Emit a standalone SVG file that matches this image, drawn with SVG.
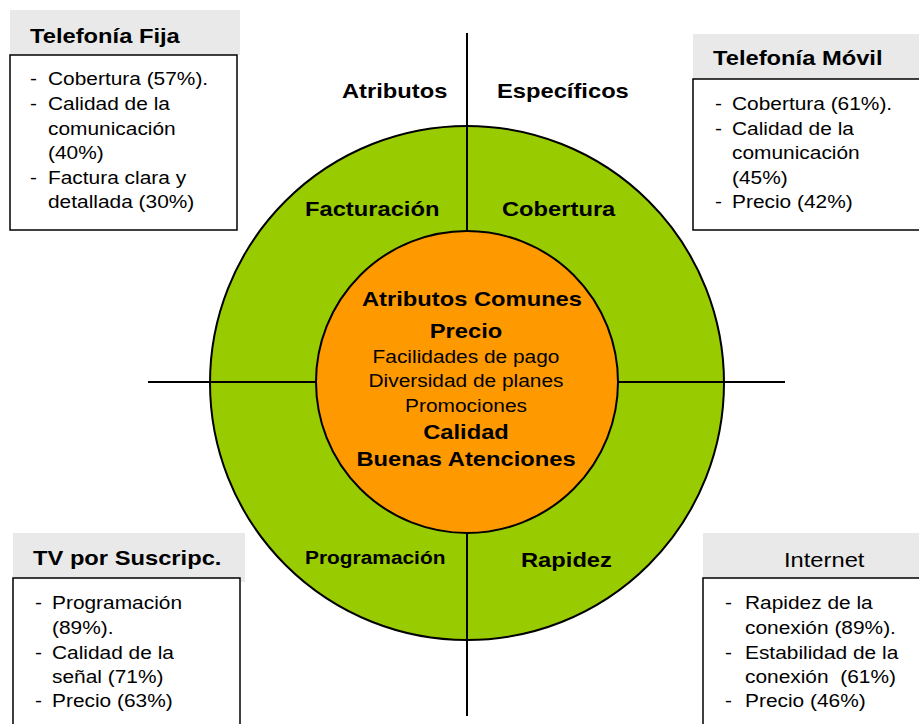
<svg xmlns="http://www.w3.org/2000/svg" width="919" height="724" viewBox="0 0 919 724">
<style>
text{font-family:"Liberation Sans",Arial,sans-serif;fill:#000;white-space:pre}
.b{font-weight:bold;font-size:21px}
.bs{font-weight:bold;font-size:18.5px}
.r{font-size:18.5px}
.rl{font-size:21px}
.m{text-anchor:middle}
.hdr{fill:#e9e9e9;stroke:none}
.box{fill:#fff;stroke:#000;stroke-width:1.5}
.ln{stroke:#000;stroke-width:2;fill:none}
</style>
<rect width="919" height="724" fill="#fff"/>
<g id="outer-ring">
<circle cx="467" cy="383" r="257" fill="#99cc00" stroke="#000" stroke-width="2"/>
</g>
<g id="connectors">
<line class="ln" x1="467" y1="33" x2="467" y2="716"/>
<line class="ln" x1="148" y1="382" x2="785" y2="382"/>
</g>
<g id="inner-circle">
<circle cx="467" cy="382" r="151" fill="#ff9900" stroke="#000" stroke-width="2"/>
<text class="b m" transform="translate(472,306) scale(1.13,1)">Atributos Comunes</text>
<text class="b m" transform="translate(466,338) scale(1.13,1)">Precio</text>
<text class="r m" transform="translate(466,363) scale(1.13,1)">Facilidades de pago</text>
<text class="r m" transform="translate(466,387) scale(1.13,1)">Diversidad de planes</text>
<text class="r m" transform="translate(466,412) scale(1.13,1)">Promociones</text>
<text class="b m" transform="translate(466,439) scale(1.13,1)">Calidad</text>
<text class="b m" transform="translate(466,466) scale(1.13,1)">Buenas Atenciones</text>
</g>
<g id="quadrant-labels">
<text class="b" transform="translate(342,98) scale(1.13,1)">Atributos</text>
<text class="b" transform="translate(497,98) scale(1.13,1)">Específicos</text>
<text class="b" transform="translate(305,216) scale(1.13,1)">Facturación</text>
<text class="b" transform="translate(502,216) scale(1.13,1)">Cobertura</text>
<text class="bs" transform="translate(305,564) scale(1.13,1)">Programación</text>
<text class="b" transform="translate(521,567) scale(1.13,1)">Rapidez</text>
</g>
<g id="telefonia-fija">
<rect class="hdr" x="10" y="10" width="230" height="45"/>
<rect class="box" x="10" y="55" width="227" height="175"/>
<text class="b" transform="translate(30,43) scale(1.13,1)">Telefonía Fija</text>
<text class="r" transform="translate(30,85) scale(1.13,1)">-</text>
<text class="r" transform="translate(48,85) scale(1.13,1)">Cobertura (57%).</text>
<text class="r" transform="translate(30,110) scale(1.13,1)">-</text>
<text class="r" transform="translate(48,110) scale(1.13,1)">Calidad de la</text>
<text class="r" transform="translate(48,135) scale(1.13,1)">comunicación</text>
<text class="r" transform="translate(48,159) scale(1.13,1)">(40%)</text>
<text class="r" transform="translate(30,184) scale(1.13,1)">-</text>
<text class="r" transform="translate(48,184) scale(1.13,1)">Factura clara y</text>
<text class="r" transform="translate(48,208) scale(1.13,1)">detallada (30%)</text>
</g>
<g id="telefonia-movil">
<rect class="hdr" x="693" y="34" width="226" height="46"/>
<rect class="box" x="693" y="79" width="240" height="151"/>
<text class="b" transform="translate(713,65) scale(1.13,1)">Telefonía Móvil</text>
<text class="r" transform="translate(715,110) scale(1.13,1)">-</text>
<text class="r" transform="translate(732,110) scale(1.13,1)">Cobertura (61%).</text>
<text class="r" transform="translate(715,135) scale(1.13,1)">-</text>
<text class="r" transform="translate(732,135) scale(1.13,1)">Calidad de la</text>
<text class="r" transform="translate(732,159) scale(1.13,1)">comunicación</text>
<text class="r" transform="translate(732,184) scale(1.13,1)">(45%)</text>
<text class="r" transform="translate(715,208) scale(1.13,1)">-</text>
<text class="r" transform="translate(732,208) scale(1.13,1)">Precio (42%)</text>
</g>
<g id="tv-suscripcion">
<rect class="hdr" x="13" y="533" width="232" height="49"/>
<rect class="box" x="13" y="578" width="227" height="160"/>
<text class="b" transform="translate(33,565) scale(1.13,1)">TV por Suscripc.</text>
<text class="r" transform="translate(35,609) scale(1.13,1)">-</text>
<text class="r" transform="translate(52,609) scale(1.13,1)">Programación</text>
<text class="r" transform="translate(52,634) scale(1.13,1)">(89%).</text>
<text class="r" transform="translate(35,659) scale(1.13,1)">-</text>
<text class="r" transform="translate(52,659) scale(1.13,1)">Calidad de la</text>
<text class="r" transform="translate(52,683) scale(1.13,1)">señal (71%)</text>
<text class="r" transform="translate(35,707) scale(1.13,1)">-</text>
<text class="r" transform="translate(52,707) scale(1.13,1)">Precio (63%)</text>
</g>
<g id="internet">
<rect class="hdr" x="703" y="533" width="216" height="45"/>
<rect class="box" x="703" y="578" width="240" height="160"/>
<text class="rl" transform="translate(784,567) scale(1.13,1)">Internet</text>
<text class="r" transform="translate(725,609) scale(1.13,1)">-</text>
<text class="r" transform="translate(745,609) scale(1.13,1)">Rapidez de la</text>
<text class="r" transform="translate(745,634) scale(1.13,1)">conexión (89%).</text>
<text class="r" transform="translate(725,659) scale(1.13,1)">-</text>
<text class="r" transform="translate(745,659) scale(1.13,1)">Estabilidad de la</text>
<text class="r" transform="translate(745,683) scale(1.13,1)">conexión  (61%)</text>
<text class="r" transform="translate(725,707) scale(1.13,1)">-</text>
<text class="r" transform="translate(745,707) scale(1.13,1)">Precio (46%)</text>
</g>
</svg>
